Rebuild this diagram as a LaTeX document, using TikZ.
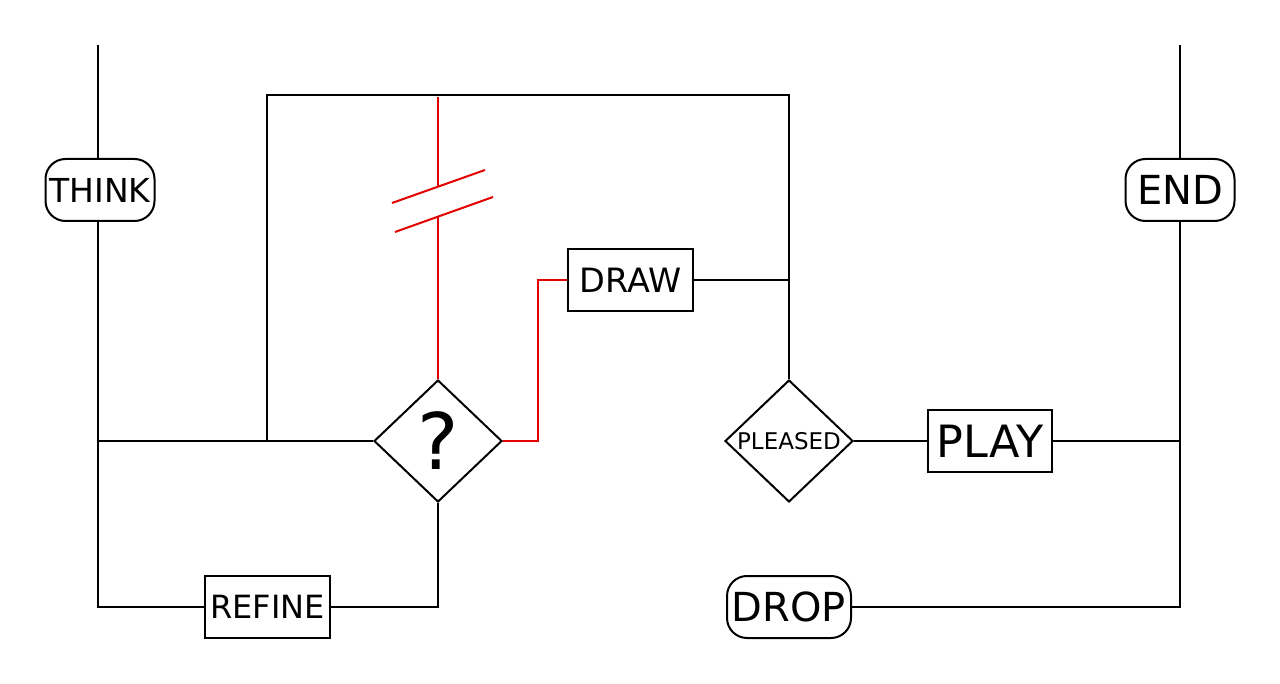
\documentclass[tikz,border=0pt]{standalone}
\usepackage{fontspec}
\setmainfont{DejaVu Sans}
\usetikzlibrary{shapes.geometric}
\tikzset{
 wire/.style={line width=2pt, black},
 redwire/.style={line width=2pt, red!90!black},
 term/.style={draw, line width=2pt, rounded corners=20pt, minimum width=109pt, minimum height=62pt, inner sep=0pt},
 proc/.style={draw, line width=2pt, minimum width=125pt, minimum height=62pt, inner sep=0pt},
 decide/.style={draw, diamond, line width=2pt, minimum width=128pt, minimum height=122pt, inner sep=0pt},
}
\newcommand{\fsz}[1]{\fontsize{#1}{#1}\selectfont}
\begin{document}
\begin{tikzpicture}[x=1pt,y=-1pt]
\useasboundingbox (0,0) rectangle (1280,684);
\node[term] (think) at (100,190) {\fsz{33}THINK};
\node[term] (end) at (1180,190) {\fsz{40}END};
\node[term, minimum width=124pt] (drop) at (789,607) {\fsz{40}DROP};
\node[proc] (draw) at (630.5,280) {\fsz{33.5}DRAW};
\node[proc] (refine) at (267.5,607) {\fsz{32}REFINE};
\node[proc, minimum width=124pt] (play) at (990,441) {\fsz{44.5}PLAY};
\node[decide] (q) at (438,441) {\fsz{78}?};
\node[decide] (pleased) at (789,441) {\fsz{23}PLEASED};
% coordinates
\coordinate (lt) at (98,45);
\coordinate (lb) at (98,221);
\coordinate (rt) at (end.north |- 0,45);
\coordinate (jl) at (lb |- q.west);
\coordinate (jr) at (267,441);
\coordinate (tl) at (267,95);
\coordinate (tr) at (pleased.north |- tl);
\coordinate (jd) at (draw.east -| pleased.north);
\coordinate (jp) at (play.east -| end.south);
\coordinate (rtop) at (438,97);
\coordinate (rb1) at (438,186);
\coordinate (rb2) at (438,217);
\coordinate (s1a) at (392,203);
\coordinate (s1b) at (485,170);
\coordinate (s2a) at (395,232);
\coordinate (s2b) at (493,197);
% black wires
\draw[wire] (lt) -- (lt |- think.north);
\draw[wire] (lb) |- (refine.west);
\draw[wire] (jl) -- (q.west);
\draw[wire] (jr) -- (tl) -- (tr) -- (pleased.north);
\draw[wire] (draw.east) -- (jd);
\draw[wire] (q.south) |- (refine.east);
\draw[wire] (pleased.east) -- (play.west);
\draw[wire] (play.east) -- (jp);
\draw[wire] (drop.east) -| (end.south);
\draw[wire] (rt) -- (end.north);
% red wires
\draw[redwire] (rtop) -- (rb1);
\draw[redwire] (rb2) -- (q.north);
\draw[redwire] (s1a) -- (s1b);
\draw[redwire] (s2a) -- (s2b);
\draw[redwire] (q.east) -- ++(35,0) |- (draw.west);
\end{tikzpicture}
\end{document}
